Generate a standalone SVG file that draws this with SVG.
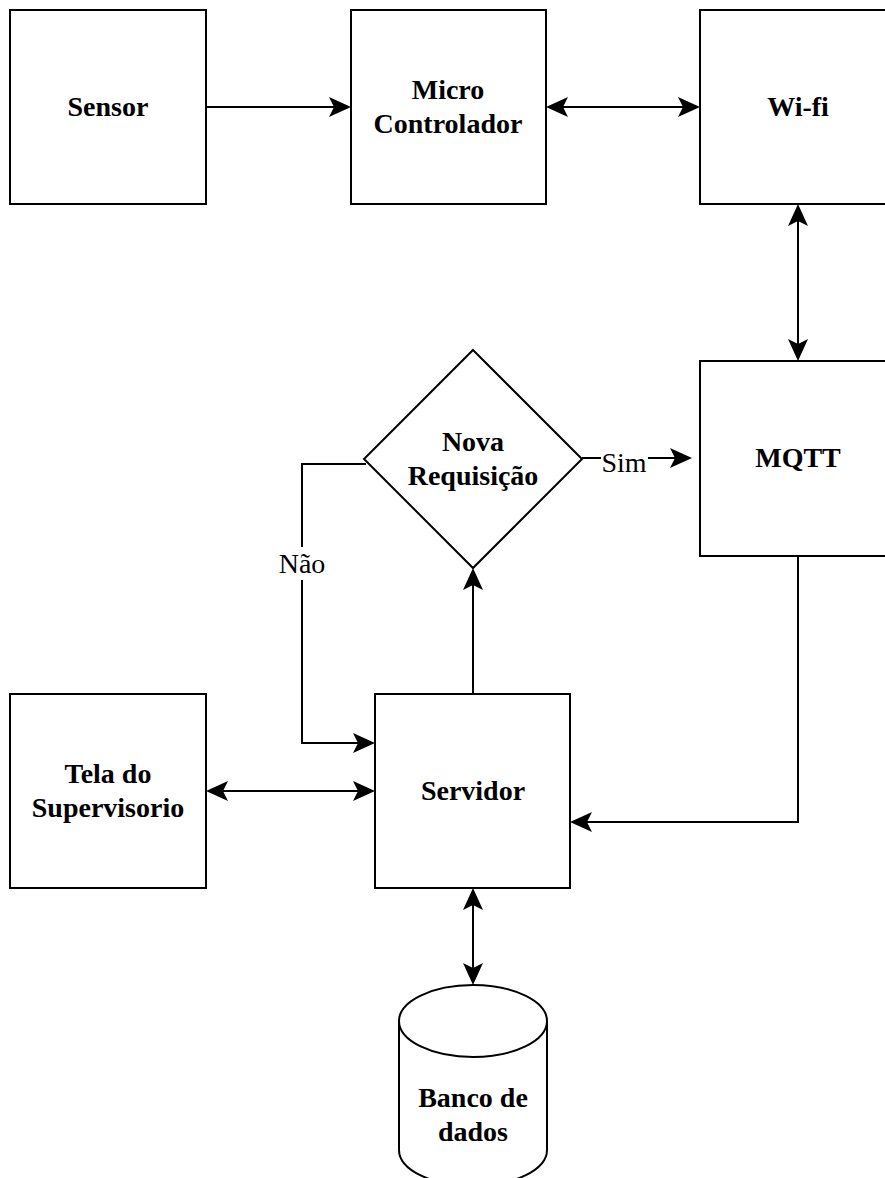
<svg xmlns="http://www.w3.org/2000/svg" width="885" height="1178" viewBox="0 0 885 1178">
<style>
.box{fill:#fff;stroke:#000;stroke-width:2}
.t{font-family:"Liberation Serif","Times New Roman",serif;font-size:28px;font-weight:bold;text-anchor:middle;fill:#000}
.lbl{font-family:"Liberation Serif","Times New Roman",serif;font-size:28px;text-anchor:middle;fill:#000}
.c{fill:none;stroke:#000;stroke-width:2}
.a{marker-end:url(#ah)}
.b{marker-start:url(#ah);marker-end:url(#ah)}
</style>
<defs>
<marker id="ah" viewBox="0 0 22 20" refX="5" refY="10" markerWidth="22" markerHeight="20" markerUnits="userSpaceOnUse" orient="auto-start-reverse">
<path d="M22,10 L0,0 L5,10 L0,20 Z" fill="#000"/>
</marker>
</defs>
<rect width="885" height="1178" fill="#fff"/>
<g id="connectors">
<path class="c a" d="M206,107 H334"/>
<path class="c b" d="M563,107 H683"/>
<path class="c b" d="M798,221 V344"/>
<path class="c a" d="M582,458 H675"/>
<path class="c a" d="M366,464 H302 V743 H358"/>
<path class="c a" d="M473,694 V585"/>
<path class="c a" d="M798,556 V822 H587"/>
<path class="c b" d="M223,791 H358"/>
<path class="c b" d="M473,905 V968"/>
<rect x="601" y="446" width="47" height="28" fill="#fff"/>
<text class="lbl" x="624" y="472">Sim</text>
<rect x="277" y="547" width="50" height="33" fill="#fff"/>
<text class="lbl" x="302" y="573">Não</text>
</g>
<g id="sensor">
<rect class="box" x="10" y="10" width="196" height="194"/>
<text class="t" x="108" y="116">Sensor</text>
</g>
<g id="micro">
<rect class="box" x="351" y="10" width="195" height="194"/>
<text class="t" x="448" y="99">Micro</text>
<text class="t" x="448" y="133">Controlador</text>
</g>
<g id="wifi">
<rect class="box" x="700" y="10" width="195" height="194"/>
<text class="t" x="798" y="116">Wi-fi</text>
</g>
<g id="mqtt">
<rect class="box" x="700" y="361" width="195" height="195"/>
<text class="t" x="798" y="467">MQTT</text>
</g>
<g id="decisao">
<path class="box" d="M473,350 L582,459 L473,568 L364,459 Z"/>
<text class="t" x="473" y="451">Nova</text>
<text class="t" x="473" y="485">Requisição</text>
</g>
<g id="tela">
<rect class="box" x="10" y="694" width="196" height="194"/>
<text class="t" x="108" y="783">Tela do</text>
<text class="t" x="108" y="817">Supervisorio</text>
</g>
<g id="servidor">
<rect class="box" x="375" y="694" width="195" height="194"/>
<text class="t" x="473" y="800">Servidor</text>
</g>
<g id="banco">
<path class="box" d="M399,1021 A74,36 0 0 1 547,1021 V1150 A74,36 0 0 1 399,1150 Z"/>
<path class="c" d="M399,1021 A74,36 0 0 0 547,1021"/>
<text class="t" x="473" y="1107">Banco de</text>
<text class="t" x="473" y="1141">dados</text>
</g>
</svg>
